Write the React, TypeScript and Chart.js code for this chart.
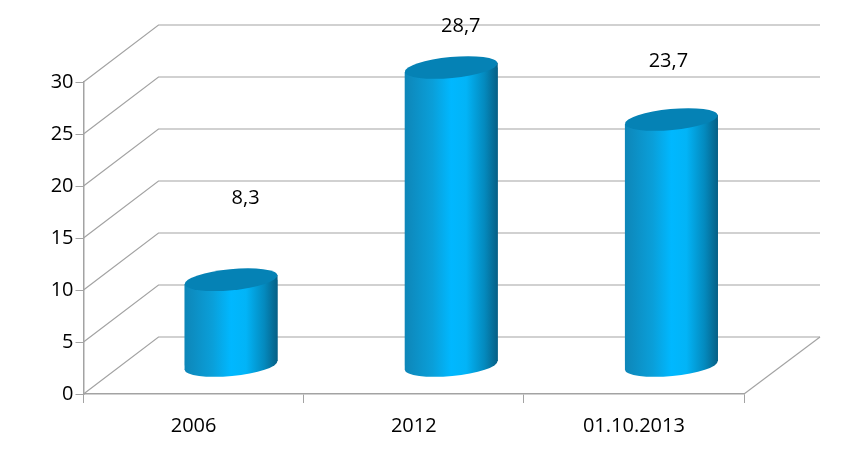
import React, { useEffect, useRef } from "react";
import { Chart, registerables } from "chart.js";

Chart.register(...registerables);

const categories = ["2006", "2012", "01.10.2013"];
const seriesValues = [8.3, 28.7, 23.7];
const valueLabels = ["8,3", "28,7", "23,7"];

const FONT = '"Open Sans", "Noto Sans", sans-serif';
const DEPTH_X = 75;
const DEPTH_Y = 57;
const BAR_DX = 37.5;
const BAR_DY = -28;
const BAR_W = 93;
const ELL_RY = 10.5;
const TILT = -0.095;
const LABEL_OFFSETS: [number, number][] = [
  [14.5, -81],
  [9.5, -41.5],
  [-3, -58.5],
];

function bodyGradient(c: CanvasRenderingContext2D, cx: number) {
  const g = c.createLinearGradient(cx - BAR_W / 2, 0, cx + BAR_W / 2, 0);
  g.addColorStop(0, "#0e86b8");
  g.addColorStop(0.3, "#0a9fd9");
  g.addColorStop(0.5, "#00b8ff");
  g.addColorStop(0.66, "#02b4f7");
  g.addColorStop(0.86, "#0489bd");
  g.addColorStop(1, "#075f85");
  return g;
}

function bodyPath(ctx: CanvasRenderingContext2D, el: any, dyEnd: number) {
  const l = el.x - BAR_W / 2;
  const r = el.x + BAR_W / 2;
  ctx.moveTo(l, el.y + dyEnd);
  ctx.lineTo(r, el.y - dyEnd);
  ctx.lineTo(r, el.base - dyEnd);
  ctx.lineTo(l, el.base + dyEnd);
  ctx.closePath();
}

const cylinderPlugin = {
  id: "cylinder3d",
  beforeDatasetsDraw(chart: any) {
    const { ctx, scales, chartArea } = chart;
    const y = scales.y;
    ctx.save();
    ctx.strokeStyle = "#a3a3a3";
    ctx.lineWidth = 1.2;
    y.ticks.forEach((t: any) => {
      const py = y.getPixelForValue(t.value);
      ctx.beginPath();
      ctx.moveTo(chartArea.left, py);
      ctx.lineTo(chartArea.left + DEPTH_X, py - DEPTH_Y);
      ctx.lineTo(chartArea.right + DEPTH_X + 1, py - DEPTH_Y);
      ctx.stroke();
    });
    ctx.beginPath();
    ctx.moveTo(chartArea.right, chartArea.bottom);
    ctx.lineTo(chartArea.right + DEPTH_X + 1, chartArea.bottom - DEPTH_Y);
    ctx.stroke();
    ctx.restore();

    // bottom caps and body sides, then clip so the bars end along the tilted caps
    const meta = chart.getDatasetMeta(0);
    const dyEnd = (BAR_W / 2) * Math.sin(-TILT);
    ctx.save();
    ctx.translate(BAR_DX, BAR_DY);
    meta.data.forEach((el: any) => {
      ctx.fillStyle = bodyGradient(ctx, el.x);
      ctx.beginPath();
      ctx.ellipse(el.x, el.base, BAR_W / 2, ELL_RY, TILT, 0, Math.PI * 2);
      ctx.fill();
      ctx.beginPath();
      bodyPath(ctx, el, dyEnd);
      ctx.fill();
    });
    ctx.beginPath();
    meta.data.forEach((el: any) => bodyPath(ctx, el, dyEnd));
    ctx.clip();
  },
  afterDatasetsDraw(chart: any) {
    const { ctx } = chart;
    ctx.restore();
    const meta = chart.getDatasetMeta(0);
    ctx.save();
    meta.data.forEach((el: any, i: number) => {
      const cx = el.x + BAR_DX;
      const cy = el.y + BAR_DY;
      ctx.beginPath();
      ctx.ellipse(cx, cy, BAR_W / 2, ELL_RY, TILT, 0, Math.PI * 2);
      ctx.fillStyle = "#0582b5";
      ctx.fill();
      ctx.fillStyle = "#000000";
      ctx.font = `20px ${FONT}`;
      ctx.textAlign = "center";
      ctx.textBaseline = "middle";
      ctx.fillText(valueLabels[i], cx + LABEL_OFFSETS[i][0], cy + LABEL_OFFSETS[i][1]);
    });
    ctx.restore();
  },
};

export default function App() {
  const ref = useRef<HTMLCanvasElement | null>(null);
  useEffect(() => {
    document.body.style.margin = "0";
    const chart = new Chart(ref.current as HTMLCanvasElement, {
      type: "bar",
      data: {
        labels: categories,
        datasets: [
          {
            data: seriesValues,
            barPercentage: BAR_W / 220,
            categoryPercentage: 1,
            backgroundColor: (c: any) => {
              const x = c.chart.scales?.x;
              if (!x || !Number.isFinite(c.dataIndex)) return "#00b8ff";
              const px = x.getPixelForValue(c.dataIndex);
              if (!Number.isFinite(px)) return "#00b8ff";
              return bodyGradient(c.chart.ctx, px);
            },
          },
        ],
      },
      options: {
        responsive: false,
        animation: false,
        layout: { padding: { top: 82, right: 120, left: 0, bottom: 0 } },
        plugins: { legend: { display: false }, tooltip: { enabled: false } },
        scales: {
          x: {
            afterFit: (s: any) => {
              s.height = 69;
            },
            grid: { drawOnChartArea: false, tickLength: 9, color: "#a3a3a3" },
            border: { color: "#a3a3a3", width: 1.5 },
            ticks: { color: "#000", padding: 11, font: { family: FONT, size: 20 } },
          },
          y: {
            min: 0,
            max: 30,
            afterFit: (s: any) => {
              s.width = 83.5;
            },
            grid: { drawOnChartArea: false, tickLength: 8, color: "#a3a3a3" },
            border: { color: "#a3a3a3", width: 1.5 },
            ticks: { stepSize: 5, color: "#000", padding: 2, font: { family: FONT, size: 20 } },
          },
        },
      },
      plugins: [cylinderPlugin],
    } as any);
    return () => chart.destroy();
  }, []);
  return <canvas ref={ref} width={864} height={463} style={{ display: "block" }} />;
}
